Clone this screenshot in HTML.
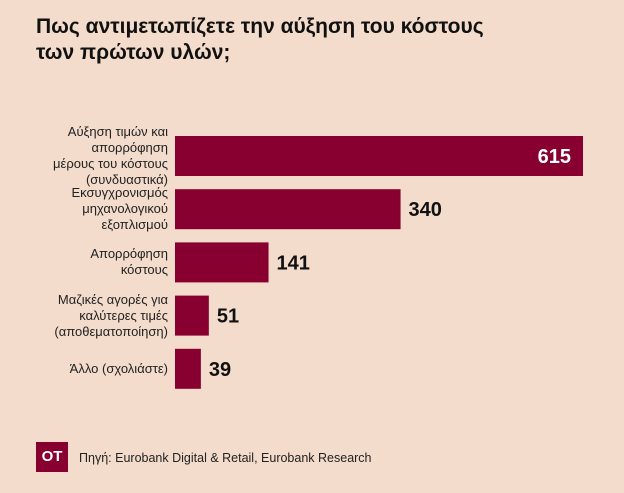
<!DOCTYPE html>
<html><head><meta charset="utf-8"><style>
body{margin:0;width:624px;height:493px;background:#f3dccb;font-family:"Liberation Sans","DejaVu Sans",sans-serif;overflow:hidden;position:relative}
#title{position:absolute;left:36px;top:14px;font-size:21px;font-weight:bold;line-height:26px;color:#111}
.lbl{position:absolute;right:456px;text-align:right;font-size:13px;line-height:16px;color:#222}
#logo{position:absolute;left:36px;top:442px;width:32px;height:30px;background:#870030;color:#fff;font-weight:bold;font-size:15px;text-align:center;line-height:30px}
#src{position:absolute;left:79px;top:451px;font-size:12.5px;color:#222}
</style></head><body>
<div id="title">Πως αντιμετωπίζετε την αύξηση του κόστους<br>των πρώτων υλών;</div>
<svg id="chart" width="624" height="493" style="position:absolute;left:0;top:0"></svg>
<div id="labels"></div>
<div id="logo">OT</div>
<div id="src">Πηγή: Eurobank Digital &amp; Retail, Eurobank Research</div>
<script>
const categories=["Αύξηση τιμών και<br>απορρόφηση<br>μέρους του κόστους<br>(συνδυαστικά)","Εκσυγχρονισμός<br>μηχανολογικού<br>εξοπλισμού","Απορρόφηση<br>κόστους","Μαζικές αγορές για<br>καλύτερες τιμές<br>(αποθεματοποίηση)","Άλλο (σχολιάστε)"];
const values=[615,340,141,51,39];
const x0=175,scale=408/615,top0=136,step=53.2,bh=40;
const svg=document.getElementById('chart'),ns="http://www.w3.org/2000/svg";
const labels=document.getElementById('labels');
values.forEach((v,i)=>{
  const y=top0+i*step,w=v*scale;
  const r=document.createElementNS(ns,'rect');
  r.setAttribute('x',x0);r.setAttribute('y',y);r.setAttribute('width',w);r.setAttribute('height',bh);r.setAttribute('fill','#870030');
  
  
  svg.appendChild(r);
  const t=document.createElementNS(ns,'text');
  const inside=w>300;
  t.setAttribute('x',inside?x0+w-12:x0+w+8);t.setAttribute('y',y+bh/2+7);
  t.setAttribute('text-anchor',inside?'end':'start');
  t.setAttribute('font-size','20');t.setAttribute('font-weight','bold');
  t.setAttribute('fill',inside?'#fff':'#111');
  t.textContent=v;
  
  
  svg.appendChild(t);
  const d=document.createElement('div');
  d.className='lbl';
  d.innerHTML=categories[i];
  const n=categories[i].split('<br>').length;
  d.style.top=(y+bh/2-n*16/2)+'px';
  
  
  labels.appendChild(d);
});
</script>
</body></html>
